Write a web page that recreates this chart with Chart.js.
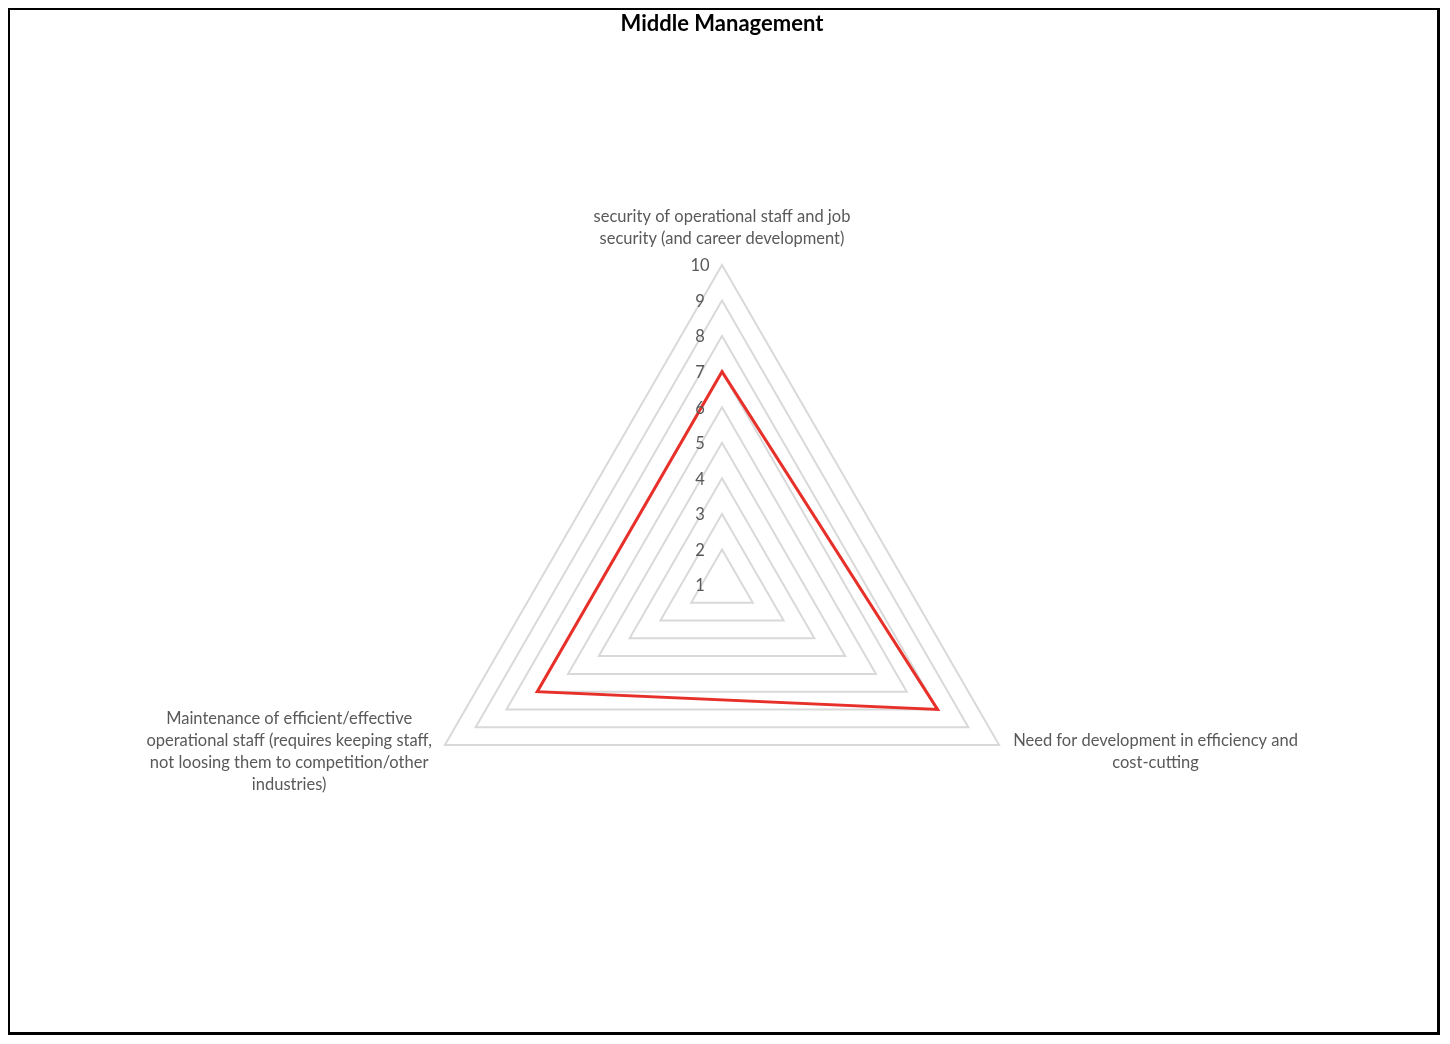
<!DOCTYPE html>
<html>
<head>
<meta charset="utf-8">
<title>Middle Management</title>
<script src="https://cdn.jsdelivr.net/npm/chart.js@4.4.0/dist/chart.umd.min.js"></script>
<style>
  html, body { margin: 0; padding: 0; background: #fff; }
  #frame {
    position: absolute; left: 8px; top: 8px; width: 1432px; height: 1027px;
    box-sizing: border-box; border: 2px solid #000;
    border-right-width: 3px; border-bottom-width: 3px;
  }
  #wrap { position: absolute; left: 0; top: 0; width: 1450px; height: 1044px; }
</style>
</head>
<body>
<div id="frame"></div>
<div id="wrap"><canvas id="chart"></canvas></div>
<script>
// Axis categories (multi-line, as in the original)
const categories = [
  ['security of operational staff and job', 'security (and career development)'],
  ['Need for development in efficiency and', 'cost-cutting'],
  ['Maintenance of efficient/effective', 'operational staff (requires keeping staff,', 'not loosing them to competition/other', 'industries)']
];
const values = [7, 8, 7];
const tickLabels = ['1', '2', '3', '4', '5', '6', '7', '8', '9', '10'];
const scaleMin = 1;
const scaleMax = 10;

const labelColor = '#595959';
const labelFont = '16.5px Lato, "Open Sans", sans-serif';

// Draws tick numbers left of the vertical axis and the category labels
const excelLabels = {
  id: 'excelLabels',
  afterDatasetsDraw(chart) {
    const scale = chart.scales.r;
    const ctx = chart.ctx;
    ctx.save();
    ctx.fillStyle = labelColor;
    ctx.font = labelFont;

    // tick numbers
    ctx.textAlign = 'center';
    ctx.textBaseline = 'middle';
    scale.ticks.forEach((tick, i) => {
      const d = scale.getDistanceFromCenterForValue(tick.value);
      ctx.fillText(tickLabels[i], scale.xCenter - 22, scale.yCenter - d + 1);
    });

    // category labels
    const lineH = 22;
    categories.forEach((lines, i) => {
      const p = scale.getPointPosition(i, scale.drawingArea);
      const widths = lines.map(l => ctx.measureText(l).width);
      const maxW = Math.max(...widths);
      const blockH = lines.length * lineH;
      let cx, top;
      if (Math.abs(Math.cos(p.angle)) < 0.1) {
        cx = p.x;
        top = p.y - 15 - blockH;
      } else if (Math.cos(p.angle) > 0) {
        cx = p.x + 14 + maxW / 2;
        top = p.y + 7 - blockH / 2;
      } else {
        cx = p.x - 13 - maxW / 2;
        top = p.y + 7 - blockH / 2;
      }
      lines.forEach((l, j) => {
        ctx.fillText(l, cx, top + lineH * j + lineH / 2);
      });
    });
    ctx.restore();
  }
};

new Chart(document.getElementById('chart'), {
  type: 'radar',
  data: {
    labels: categories,
    datasets: [{
      label: 'Middle Management',
      data: values,
      borderColor: '#e8302a',
      borderWidth: 3,
      backgroundColor: 'rgba(0,0,0,0)',
      fill: false,
      pointRadius: 0,
      pointHoverRadius: 0,
      tension: 0
    }]
  },
  options: {
    responsive: true,
    maintainAspectRatio: false,
    animation: false,
    layout: { padding: { left: 402, right: 408, top: 0, bottom: 139 } },
    plugins: {
      legend: { display: false },
      tooltip: { enabled: false },
      title: {
        display: true,
        text: 'Middle Management',
        color: '#000',
        font: { family: 'Lato, "Open Sans", sans-serif', size: 22, weight: 'bold' },
        padding: { top: 11, bottom: 227.6 }
      }
    },
    scales: {
      r: {
        min: scaleMin,
        max: scaleMax,
        angleLines: { display: false },
        grid: { color: '#d9d9d9', lineWidth: 2 },
        pointLabels: { display: false },
        ticks: { display: false, stepSize: 1 }
      }
    }
  },
  plugins: [excelLabels]
});
</script>
</body>
</html>
